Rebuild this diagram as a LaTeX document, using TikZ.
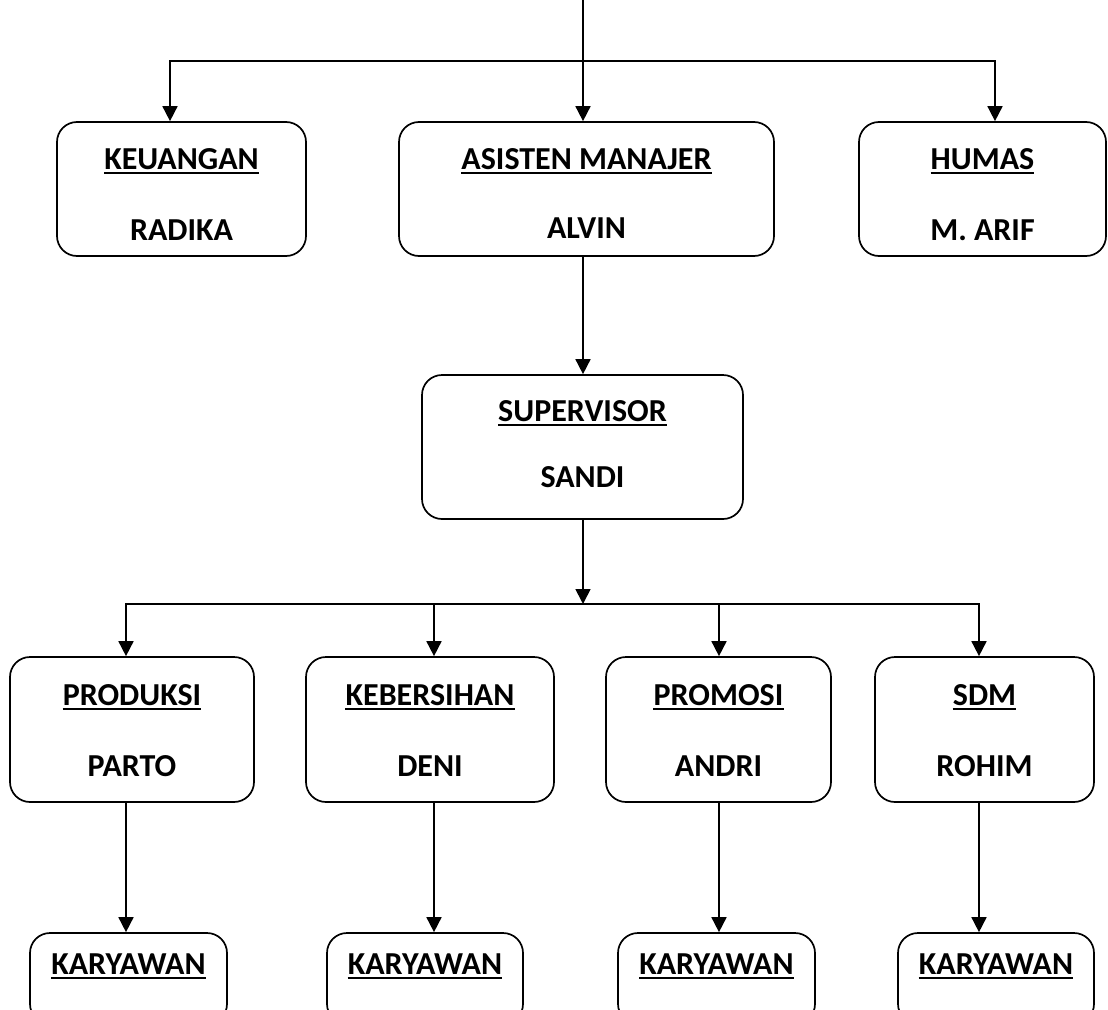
\documentclass[tikz,border=0pt]{standalone}
\usepackage{fontspec}
\setmainfont{Carlito}
\usetikzlibrary{arrows.meta,calc}
\begin{document}
\begin{tikzpicture}[x=1pt,y=-1pt,
 box/.style={draw,line width=1.7pt,rounded corners=20pt,inner sep=0pt},
 lbl/.style={font=\fontsize{32}{38}\selectfont\bfseries,anchor=base,inner sep=0pt},
 arr/.style={line width=1.7pt,-{Triangle[width=15pt,length=15pt]}},
 ln/.style={line width=1.7pt,line cap=rect},
 ul/.style={line width=2.6pt}]
\clip (0,0) rectangle (1108,1009);
% boxes
\node[box,minimum width=249pt,minimum height=134pt] (keu) at (181.5,189) {};
\node[box,minimum width=375pt,minimum height=134pt] (asm) at (586.5,189) {};
\node[box,minimum width=247pt,minimum height=134pt] (hum) at (982.5,189) {};
\node[box,minimum width=321pt,minimum height=144pt] (sup) at (582.5,447) {};
\node[box,minimum width=244pt,minimum height=145pt] (prod) at (132,729.5) {};
\node[box,minimum width=248pt,minimum height=145pt] (keb) at (430,729.5) {};
\node[box,minimum width=225pt,minimum height=145pt] (pro) at (718.5,729.5) {};
\node[box,minimum width=219pt,minimum height=145pt] (sdm) at (984.5,729.5) {};
\node[box,minimum width=197pt,minimum height=91pt] (k1) at (128.5,978.5) {};
\node[box,minimum width=196pt,minimum height=91pt] (k2) at (425,978.5) {};
\node[box,minimum width=197pt,minimum height=91pt] (k3) at (716.5,978.5) {};
\node[box,minimum width=196pt,minimum height=91pt] (k4) at (996,978.5) {};
% labels
\node[lbl] (keuT) at ($(keu.north)+(0,48)$) {KEUANGAN};
\node[lbl] (keuN) at ($(keu.north)+(0,119)$) {RADIKA};
\node[lbl] (asmT) at ($(asm.north)+(0,48)$) {ASISTEN MANAJER};
\node[lbl] (asmN) at ($(asm.north)+(0,117)$) {ALVIN};
\node[lbl] (humT) at ($(hum.north)+(0,48)$) {HUMAS};
\node[lbl] (humN) at ($(hum.north)+(0,119)$) {M. ARIF};
\node[lbl] (supT) at ($(sup.north)+(0,47)$) {SUPERVISOR};
\node[lbl] (supN) at ($(sup.north)+(0,113)$) {SANDI};
\node[lbl] (prodT) at ($(prod.north)+(0,49)$) {PRODUKSI};
\node[lbl] (prodN) at ($(prod.north)+(0,120)$) {PARTO};
\node[lbl] (kebT) at ($(keb.north)+(0,49)$) {KEBERSIHAN};
\node[lbl] (kebN) at ($(keb.north)+(0,120)$) {DENI};
\node[lbl] (proT) at ($(pro.north)+(0,49)$) {PROMOSI};
\node[lbl] (proN) at ($(pro.north)+(0,120)$) {ANDRI};
\node[lbl] (sdmT) at ($(sdm.north)+(0,49)$) {SDM};
\node[lbl] (sdmN) at ($(sdm.north)+(0,120)$) {ROHIM};
\node[lbl] (k1T) at ($(k1.north)+(0,42)$) {KARYAWAN};
\node[lbl] (k2T) at ($(k2.north)+(0,42)$) {KARYAWAN};
\node[lbl] (k3T) at ($(k3.north)+(0,42)$) {KARYAWAN};
\node[lbl] (k4T) at ($(k4.north)+(0,42)$) {KARYAWAN};
% underlines
\foreach \t in {keuT,asmT,humT,supT,prodT,kebT,proT,sdmT,k1T,k2T,k3T,k4T}
  \draw[ul] ($(\t.base west)+(0,3.8)$) -- ($(\t.base east)+(0,3.8)$);
% connectors
\coordinate (top) at (583,0);
\coordinate (b1L) at (170,61);
\coordinate (b1R) at (995,61);
\draw[ln] (b1L) -- (b1R);
\draw[arr] (top) -- (top |- asm.north);
\draw[arr] (b1L) -- (b1L |- keu.north);
\draw[arr] (b1R) -- (b1R |- hum.north);
\draw[arr] (top |- asm.south) -- (top |- sup.north);
\coordinate (b2) at (583,604);
\draw[arr] (top |- sup.south) -- (b2);
\coordinate (d1) at (126,604);
\coordinate (d2) at (434,604);
\coordinate (d3) at (719,604);
\coordinate (d4) at (979,604);
\draw[ln] (d1) -- (d4);
\draw[arr] (d1) -- (d1 |- prod.north);
\draw[arr] (d2) -- (d2 |- keb.north);
\draw[arr] (d3) -- (d3 |- pro.north);
\draw[arr] (d4) -- (d4 |- sdm.north);
\draw[arr] (d1 |- prod.south) -- (d1 |- k1.north);
\draw[arr] (d2 |- keb.south) -- (d2 |- k2.north);
\draw[arr] (d3 |- pro.south) -- (d3 |- k3.north);
\draw[arr] (d4 |- sdm.south) -- (d4 |- k4.north);
\end{tikzpicture}
\end{document}
